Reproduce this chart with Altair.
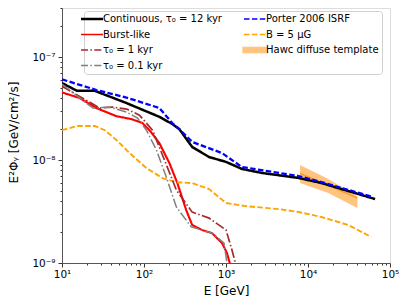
import altair as alt
import pandas as pd

CONT = "Continuous, τ₀ = 12 kyr"
BURST = "Burst-like"
TAU1 = "τ₀ = 1 kyr"
TAU01 = "τ₀ = 0.1 kyr"
PORTER = "Porter 2006 ISRF"
BFIELD = "B = 5 μG"
HAWC = "Hawc diffuse template"

cont_E = [10, 15.2, 25, 60, 154, 221, 269, 387, 622, 1000, 1563, 2730, 7670, 14600, 31000, 65800]
cont_F = [5.6e-8, 4.71e-8, 4.71e-8, 3.6e-8, 2.63e-8, 2.24e-8, 2.0e-8, 1.34e-8, 1.07e-8, 9.6e-9, 8.2e-9,
          7.5e-9, 6.7e-9, 5.98e-9, 5.0e-9, 4.18e-9]

porter_E = [10, 26.3, 61, 154, 221, 269, 387, 895, 1563, 7670, 14600, 62200]
porter_F = [6.08e-8, 4.79e-8, 4.05e-8, 3.2e-8, 2.29e-8, 2.0e-8, 1.5e-8, 1.17e-8, 8.55e-9, 7.0e-9, 6.1e-9, 4.37e-9]

burst_E = [10, 16.5, 26.3, 46, 70, 95, 120, 154, 204, 255, 327, 387, 512, 676, 895, 1028, 1200]
burst_F = [4.54e-8, 4.0e-8, 3.2e-8, 2.67e-8, 2.5e-8, 2.3e-8, 1.9e-8, 1.46e-8, 9.35e-9, 5.98e-9, 3.27e-9,
           2.34e-9, 2.09e-9, 1.95e-9, 1.56e-9, 1.25e-9, 8e-10]

tau1_E = [10, 28.9, 41.5, 61.4, 88, 127, 168, 248, 387, 622, 1000, 1182, 1400]
tau1_F = [5.22e-8, 3.2e-8, 3.27e-8, 3.13e-8, 2.73e-8, 1.95e-8, 1.12e-8, 5.12e-9, 3.12e-9, 2.73e-9, 2.09e-9,
          1.34e-9, 8e-10]

tau01_E = [10, 23.8, 38.2, 61.4, 83.4, 107, 142, 187, 248, 377, 512, 676, 946, 1028, 1080]
tau01_F = [5.47e-8, 3.2e-8, 3.27e-8, 2.92e-8, 2.56e-8, 1.95e-8, 1.25e-8, 6.84e-9, 3.5e-9, 2.24e-9, 2.09e-9,
           1.95e-9, 1.56e-9, 1e-9, 8e-10]

bfield_E = [10, 15.2, 25.1, 33.2, 46.4, 66.7, 107, 168, 248, 387, 622, 1000, 1747, 4390, 7670, 14600, 31000, 58900]
bfield_F = [1.95e-8, 2.14e-8, 2.14e-8, 1.95e-8, 1.56e-8, 1.17e-8, 8.36e-9, 6.68e-9, 6.1e-9, 5.98e-9, 5.22e-9,
            3.83e-9, 3.57e-9, 3.34e-9, 3.13e-9, 2.8e-9, 2.34e-9, 1.79e-9]

hawc_E = [8000, 17700, 40000]
hawc_lo = [5.98e-9, 4.79e-9, 3.42e-9]
hawc_hi = [8.93e-9, 6.55e-9, 4.42e-9]
hawc_mid = [7.4e-9, 5.7e-9, 4.28e-9]

x_major = [10, 100, 1000, 10000, 100000]
x_labels = ["10¹", "10²", "10³", "10⁴", "10⁵"]
y_major = [1e-9, 1e-8, 1e-7]
y_labels = ["10⁻⁹", "10⁻⁸", "10⁻⁷"]

# ---- build tables ----
series = [
    (CONT, cont_E, cont_F),
    (PORTER, porter_E, porter_F),
    (BURST, burst_E, burst_F),
    (BFIELD, bfield_E, bfield_F),
    (TAU1, tau1_E, tau1_F),
    (TAU01, tau01_E, tau01_F),
]
rows = []
for name, E, F in series:
    for e, f in zip(E, F):
        rows.append({"series": name, "E": e, "F": f})
lines_df = pd.DataFrame(rows)
hawc_df = pd.DataFrame({"series": HAWC, "E": hawc_E, "lo": hawc_lo, "hi": hawc_hi, "mid": hawc_mid})

x_ticks = []
for d in x_major[:-1]:
    x_ticks += [d * m for m in range(1, 10)]
x_ticks.append(x_major[-1])
y_ticks = []
for d in y_major:
    y_ticks += [d * m for m in range(1, 10)]
y_ticks = [v for v in y_ticks if v <= 3e-7]


def label_expr(vals, labs):
    expr = "''"
    for v, l in zip(vals, labs):
        expr = f"datum.value == {v!r} ? '{l}' : ({expr})"
    return expr


def major_test(vals):
    return "indexof([" + ",".join(repr(v) for v in vals) + "], datum.value) >= 0"


# legend is laid out column by column
domain = [CONT, BURST, TAU1, TAU01, PORTER, BFIELD, HAWC]
colors = ["#000000", "#ff0000", "#a52a2a", "#808080", "#0000ff", "#ffa500", "#ff8c00"]
dash_dom = [CONT, PORTER, BURST, BFIELD, TAU1, TAU01]
dash_rng = [[1, 0], [5.5, 2.4], [1, 0], [5.5, 2.4], [9.6, 2.4, 1.5, 2.4], [9.6, 2.4, 1.5, 2.4]]
width_rng = [2.5, 1.5, 1.5, 1.5, 1.5, 1.5]

FONT = "DejaVu Sans"

xscale = alt.Scale(type="log", domain=[10, 100000])
yscale = alt.Scale(type="log", domain=[1e-9, 3e-7])

xaxis = alt.Axis(values=x_ticks, labelExpr=label_expr(x_major, x_labels), grid=False,
                 title="E [GeV]", titleFont=FONT, titleFontSize=12, titleFontWeight="normal",
                 titleColor="black", titleY=22, titleBaseline="top",
                 labelFont=FONT, labelFontSize=10.5, labelColor="black", labelPadding=2,
                 tickSize={"condition": {"test": major_test(x_major), "value": 4}, "value": 2},
                 tickColor="#333", domainColor="#555", labelFlush=False, labelOverlap=False)
yaxis = alt.Axis(values=y_ticks, labelExpr=label_expr(y_major, y_labels), grid=False,
                 title="E²Φᵧ [GeV/cm²/s]", titleFont=FONT, titleFontSize=12, titleFontWeight="normal",
                 titleColor="black", titleX=-42, titleY=124,
                 labelFont=FONT, labelFontSize=10.5, labelColor="black", labelPadding=3,
                 tickSize={"condition": {"test": major_test(y_major), "value": 4}, "value": 2},
                 tickColor="#333", domainColor="#555", labelFlush=False, labelOverlap=False)

legend = alt.Legend(
    title=None, orient="none", legendX=22, legendY=3, columns=2, symbolType="stroke",
    symbolSize=484, labelFont=FONT, labelFontSize=10, labelColor="black", labelOffset=6,
    fillColor="white", strokeColor="#d0d0d0", cornerRadius=3, padding=3,
    rowPadding=5.5, columnPadding=19, labelLimit=300,
)

band = alt.Chart(hawc_df).mark_area(fill="#ff8c00", fillOpacity=0.5, clip=True).encode(
    x=alt.X("E:Q", scale=xscale, axis=xaxis),
    y=alt.Y("lo:Q", scale=yscale, axis=yaxis),
    y2="hi:Q",
)
band_mid = alt.Chart(hawc_df).mark_line(stroke="#ff8c00", opacity=0.7, strokeWidth=1.5, clip=True).encode(
    x=alt.X("E:Q", scale=xscale),
    y=alt.Y("mid:Q", scale=yscale),
)
lines = alt.Chart(lines_df).mark_line(clip=True).encode(
    x=alt.X("E:Q", scale=xscale),
    y=alt.Y("F:Q", scale=yscale),
    color=alt.Color("series:N", scale=alt.Scale(domain=domain, range=colors), legend=legend),
    strokeDash=alt.StrokeDash("series:N", scale=alt.Scale(domain=dash_dom, range=dash_rng), legend=None),
    strokeWidth=alt.StrokeWidth("series:N", scale=alt.Scale(domain=dash_dom, range=width_rng), legend=None),
    order=alt.Order("E:Q"),
)

chart = alt.layer(band, band_mid, lines).properties(
    width=328, height=255,
    padding={"left": 54, "top": 0, "right": 9, "bottom": 34},
    autosize=alt.AutoSizeParams(type="none"),
).configure_view(stroke="#555", strokeWidth=1).configure(background="white")

# custom per-entry legend symbols (Vega-Lite passes legend "encode" through to Vega)
dash_expr = (f"datum.value == '{PORTER}' || datum.value == '{BFIELD}' ? [5.5,2.4] : "
             f"(datum.value == '{TAU1}' || datum.value == '{TAU01}' ? [7,2.4,1.5,2.4] : [1,0])")
legend_encode = {"symbols": {"update": {
    "shape": {"signal": f"datum.value == '{HAWC}' ? 'M-1.15,-0.3H1.15V0.3H-1.15Z' : 'stroke'"},
    "fill": {"signal": f"datum.value == '{HAWC}' ? '#ff8c00' : 'transparent'"},
    "fillOpacity": {"value": 0.5},
    "strokeWidth": {"signal": f"datum.value == '{HAWC}' ? 0 : (datum.value == '{CONT}' ? 2.5 : 1.5)"},
    "strokeDash": {"signal": dash_expr},
}}}
spec = chart.to_dict()
for lyr in spec.get("layer", []):
    c = lyr.get("encoding", {}).get("color")
    if c and isinstance(c.get("legend"), dict):
        c["legend"]["encode"] = legend_encode
object.__setattr__(chart, "to_dict", lambda *a, **k: spec)

chart.save("out.html", embed_options={"renderer": "svg", "actions": False})
